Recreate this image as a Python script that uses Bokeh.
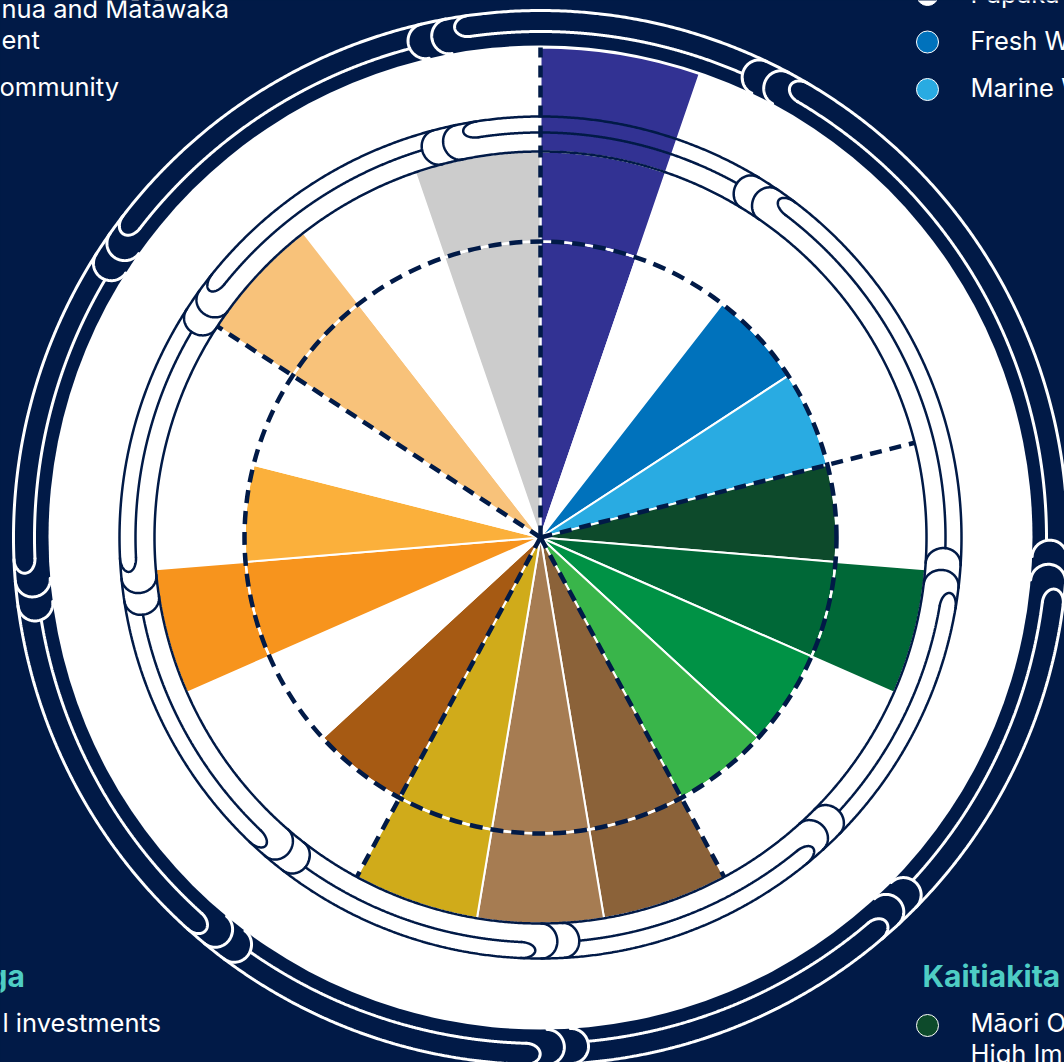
import numpy as np
from bokeh.plotting import figure
from bokeh.models import Range1d, ColumnDataSource
from bokeh.embed import file_html
from bokeh.resources import INLINE
from bokeh.core.properties import value

# ---------------- data ----------------
categories = [
    "Segment 1", "Papakāinga", "Fresh Water", "Marine Water",
    "Māori Owned High Impact", "Kaitiakitanga 2", "Kaitiakitanga 3", "Kaitiakitanga 4",
    "Segment 9", "Segment 10", "Segment 11",
    "Segment 12", "Segment 13", "Segment 14", "Segment 15", "Segment 16",
    "Segment 17", "Segment 18", "Segment 19",
]
scores = [3, 1, 1, 1, 1, 2, 1, 1, 2, 2, 2, 1, 1, 2, 1, 1, 2, 1, 2]
colors = ["#323293", "#ffffff", "#0072bc", "#29abe2",
          "#0d4a2b", "#006837", "#009245", "#39b54a",
          "#8b6239", "#a67c52", "#d0ab1a",
          "#a65a13", "#ffffff", "#f7941d", "#fbb03b", "#ffffff",
          "#f8c27a", "#ffffff", "#cccccc"]
group_starts = [0, 4, 8, 11, 16]
level_radius = [0, 296, 386, 490]

legend_tl_lines = ["nua and Mātāwaka", "ent", "ommunity"]
legend_tr_lines = ["Papaka", "Fresh W", "Marine W"]
legend_tr_dots = ["#ffffff", "#0072bc", "#29abe2"]
heading_bl = "ga"
legend_bl_lines = ["l investments"]
heading_br = "Kaitiakita"
legend_br_lines = ["Māori O", "High Im"]
legend_br_dots = ["#0d4a2b"]

NAVY = "#011a47"
TEAL = "#4ecdc4"
FONT = "Inter"

# ---------------- figure ----------------
W, H = 1064, 1062
CX, CY = 540, 537  # centre of the wheel in page pixels
TXT_DY = 10        # renderer places alphabetic baseline this much lower


def px(X, Y):
    return X - CX, CY - Y


p = figure(width=W, height=H, output_backend="svg", toolbar_location=None,
           x_range=Range1d(-CX, W - CX), y_range=Range1d(CY - H, CY),
           min_border=0)
p.axis.visible = False
p.grid.visible = False
p.outline_line_color = None
p.background_fill_color = NAVY
p.border_fill_color = NAVY

try:
    from bokeh.models import GlobalInlineStyleSheet
    p.stylesheets = [GlobalInlineStyleSheet(css="body{background:%s;}" % NAVY)]
except Exception:
    pass


def pol(r, ang_deg):
    a = np.radians(ang_deg)
    return r * np.cos(a), r * np.sin(a)


# white disc
p.circle(x=[0], y=[0], radius=492, fill_color="white", line_color=None)


def ring(r_in, r_mid, r_out, centers, bulge, step, hook, color, width, draw_inner):
    xs, ys = [], []
    th = np.linspace(0, 360, 1441)
    x, y = pol(r_out, th)
    xs.append(list(x)); ys.append(list(y))
    if draw_inner:
        x, y = pol(r_in, th)
        xs.append(list(x)); ys.append(list(y))
    u = np.linspace(0, np.pi, 50)
    order = sorted(centers, reverse=True)
    for k, phi in enumerate(order):
        for j in range(2):
            apex = j * step
            t = apex + bulge * (1 - np.sin(u))
            s = (r_out + r_in) / 2 + (r_out - r_in) / 2 * np.cos(u)
            x, y = pol(s, phi - np.degrees(t / r_mid))
            xs.append(list(x)); ys.append(list(y))
        apex = 2 * step
        t = apex + hook * (1 - np.sin(u))
        s = (r_out + r_mid) / 2 + (r_out - r_mid) / 2 * np.cos(u)
        x, y = pol(s, phi - np.degrees(t / r_mid))
        xs.append(list(x)); ys.append(list(y))
        a_end = phi - np.degrees((apex + hook) / r_mid)
        nxt = order[(k + 1) % len(order)]
        if k + 1 == len(order):
            nxt -= 360
        th2 = np.linspace(a_end, nxt, 400)
        x, y = pol(r_mid, th2)
        xs.append(list(x)); ys.append(list(y))
    p.multi_line(xs=xs, ys=ys, line_color=color, line_width=width, line_cap="round")


# outer decorative ring (white lines on navy)
ring(492, 506, 527, [105.0, 66.5, -0.3, -42.6, -84.6, -125.0, -170.6, 149.4],
     bulge=17, step=24, hook=14, color="white", width=3, draw_inner=False)

# wedges (stacked by level)
n = len(scores)
step = 360.0 / n
rows = dict(inner=[], outer=[], start=[], end=[], color=[])
for i, sc in enumerate(scores):
    for lvl in range(1, sc + 1):
        rows["inner"].append(level_radius[lvl - 1])
        rows["outer"].append(level_radius[lvl])
        rows["start"].append(np.radians(90 - (i + 1) * step))
        rows["end"].append(np.radians(90 - i * step))
        rows["color"].append(colors[i])
src = ColumnDataSource(rows)
p.annular_wedge(x=0, y=0, inner_radius="inner", outer_radius="outer",
                start_angle="start", end_angle="end", direction="anticlock",
                fill_color="color", line_color="white", line_width=2, source=src)

# inner decorative ring (navy lines)
ring(386, 405, 421, [107.0, 61.0, -1.5, -42.5, -84.5, -125.5, -169.0, 149.5],
     bulge=16, step=22, hook=14, color=NAVY, width=2.5, draw_inner=True)

# dashed reference circle
p.arc(x=0, y=0, radius=level_radius[1], start_angle=0, end_angle=2 * np.pi,
      line_color="white", line_width=2.5)
p.arc(x=0, y=0, radius=level_radius[1], start_angle=0, end_angle=2 * np.pi,
      line_color=NAVY, line_width=4.5, line_dash="13 8")

# dashed group boundaries
x1, y1 = [], []
for g in group_starts:
    ang = 90 - g * step
    r = level_radius[max(scores[g], scores[g - 1], 2)]
    xx, yy = pol(r, ang)
    x1.append(xx); y1.append(yy)
p.segment(x0=[0] * len(x1), y0=[0] * len(x1), x1=x1, y1=y1,
          line_color=NAVY, line_width=4.5, line_dash="12 8")

# ---------------- legend fragments ----------------
def txt(X, Y, s, color="white", size="25px", style="normal"):
    x, y = px(X, Y - TXT_DY)
    p.text(x=[x], y=[y], text=[s], text_color=color, text_font=value(FONT),
           text_font_size=size, text_font_style=style, text_baseline="alphabetic",
           text_align="left")


for k, s in enumerate(legend_tl_lines):
    txt([1, 1, -1][k], [18, 49, 96][k], s, size="25.5px")

for k, s in enumerate(legend_tr_lines):
    txt(970, 3 + 47 * k, s, size="25.5px")
    dx, dy = px(927, -6 + 47.5 * k)
    p.circle(x=[dx], y=[dy], radius=11, fill_color=legend_tr_dots[k],
             line_color="white", line_width=1)

txt(-12, 985, heading_bl, color=TEAL, size="30px", style="bold")
for k, s in enumerate(legend_bl_lines):
    txt(2, 1032 + 47 * k, s, size="25.5px")

txt(922, 985, heading_br, color=TEAL, size="30px", style="bold")
for k, s in enumerate(legend_br_lines):
    txt(970, 1032 + 31 * k, s, size="25.5px")
dx, dy = px(927, 1025)
p.circle(x=[dx], y=[dy], radius=11, fill_color=legend_br_dots[0],
         line_color="white", line_width=1)

open("out.html", "w").write(file_html(p, INLINE))
